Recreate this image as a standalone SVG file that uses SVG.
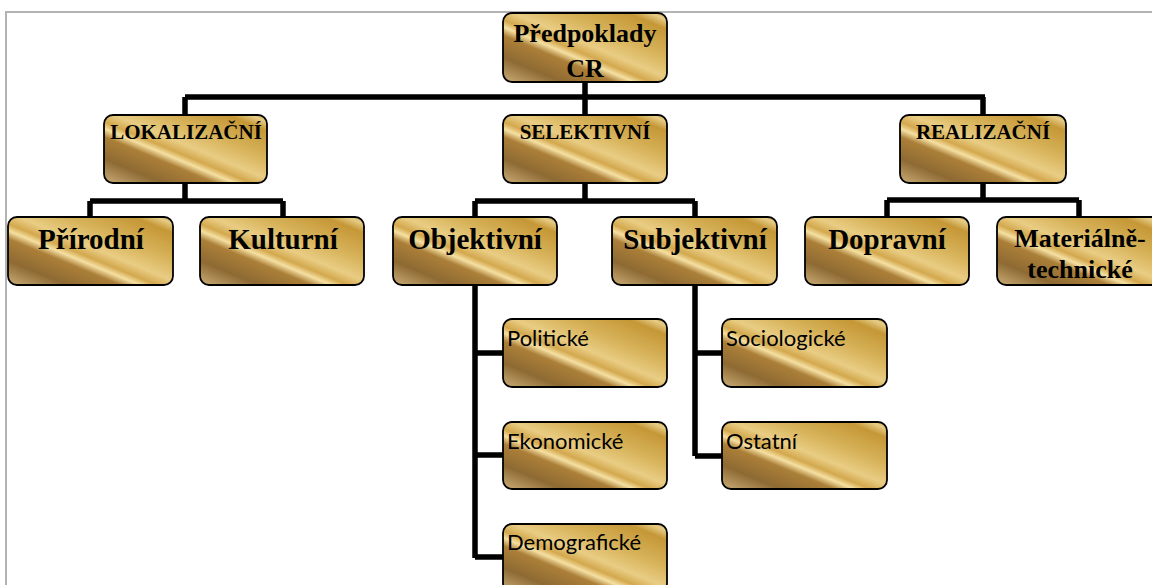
<svg xmlns="http://www.w3.org/2000/svg" width="1152" height="585" viewBox="0 0 1152 585">
<defs>
<linearGradient id="gold" x1="1" y1="0" x2="0" y2="1">
<stop offset="0" stop-color="#c9a148"/>
<stop offset="0.05" stop-color="#e6cc86"/>
<stop offset="0.12" stop-color="#c59736"/>
<stop offset="0.33" stop-color="#d8b45c"/>
<stop offset="0.47" stop-color="#e9cd84"/>
<stop offset="0.55" stop-color="#d3a84e"/>
<stop offset="0.6" stop-color="#f5e0a2"/>
<stop offset="0.66" stop-color="#ab7f38"/>
<stop offset="0.82" stop-color="#8e6a33"/>
<stop offset="1" stop-color="#cbad78"/>
</linearGradient>
<style>
.box{fill:url(#gold);stroke:#000;stroke-width:1.8}
.conn{fill:none;stroke:#000;stroke-width:5.5;stroke-linejoin:miter;stroke-linecap:butt}
.frame{fill:none;stroke:#b3b3b3;stroke-width:2}
.t0{font-family:"Liberation Serif","Times New Roman",serif;font-weight:bold;font-size:26px;fill:#000;text-anchor:middle}
.t1{font-family:"Liberation Serif","Times New Roman",serif;font-weight:bold;font-size:21px;fill:#000;text-anchor:middle}
.t2{font-family:"Liberation Serif","Times New Roman",serif;font-weight:bold;font-size:29px;fill:#000;text-anchor:middle}
.t2b{font-family:"Liberation Serif","Times New Roman",serif;font-weight:bold;font-size:26px;fill:#000;text-anchor:middle}
.t3{font-family:Lato,"Open Sans",sans-serif;font-size:22px;fill:#000}
</style>
</defs>
<rect width="1152" height="585" fill="#fff"/>
<path class="frame" d="M6,585 V12 H1152"/>
<g id="connectors">
<path class="conn" d="M585,82 V97 M185,97 H985 M185,97 V115 M585,97 V115 M983,97 V115"/>
<path class="conn" d="M185,183 V201 M90,201 H283 M90,201 V217 M283,201 V217"/>
<path class="conn" d="M585,183 V201 M475,201 H695 M475,201 V217 M695,201 V217"/>
<path class="conn" d="M983,183 V200 M887,200 H1079 M887,200 V217 M1079,200 V217"/>
<path class="conn" d="M475,285 V558 M475,353 H503 M475,455 H503 M475,557 H503"/>
<path class="conn" d="M695,285 V456 M695,353 H722 M695,456 H722"/>
</g>
<g id="n-root"><rect class="box" x="503" y="13" width="164" height="69" rx="9"/><text class="t0" x="585" y="42">Předpoklady</text><text class="t0" x="585" y="77">CR</text></g>
<g id="n-lokalizacni"><rect class="box" x="104" y="115" width="163" height="68" rx="9"/><text class="t1" x="186" y="139">LOKALIZAČNÍ</text></g>
<g id="n-selektivni"><rect class="box" x="503" y="115" width="164" height="68" rx="9"/><text class="t1" x="585" y="139">SELEKTIVNÍ</text></g>
<g id="n-realizacni"><rect class="box" x="900" y="115" width="166" height="68" rx="9"/><text class="t1" x="983" y="139">REALIZAČNÍ</text></g>
<g id="n-prirodni"><rect class="box" x="8" y="217" width="165" height="68" rx="9"/><text class="t2" x="91" y="249">Přírodní</text></g>
<g id="n-kulturni"><rect class="box" x="200" y="217" width="164" height="68" rx="9"/><text class="t2" x="283" y="249">Kulturní</text></g>
<g id="n-objektivni"><rect class="box" x="393" y="217" width="164" height="68" rx="9"/><text class="t2" x="475" y="249">Objektivní</text></g>
<g id="n-subjektivni"><rect class="box" x="612" y="217" width="165" height="68" rx="9"/><text class="t2" x="695" y="249">Subjektivní</text></g>
<g id="n-dopravni"><rect class="box" x="805" y="217" width="164" height="68" rx="9"/><text class="t2" x="887" y="249">Dopravní</text></g>
<g id="n-materialne"><rect class="box" x="997" y="217" width="164" height="68" rx="9"/><text class="t2b" x="1080" y="247">Materiálně-</text><text class="t2b" x="1080" y="278">technické</text></g>
<g id="n-politicke"><rect class="box" x="503" y="319" width="164" height="68" rx="9"/><text class="t3" x="507" y="346">Politické</text></g>
<g id="n-ekonomicke"><rect class="box" x="503" y="422" width="164" height="67" rx="9"/><text class="t3" x="507" y="449">Ekonomické</text></g>
<g id="n-demograficke"><rect class="box" x="503" y="524" width="164" height="68" rx="9"/><text class="t3" x="507" y="550">Demografické</text></g>
<g id="n-sociologicke"><rect class="box" x="722" y="319" width="165" height="68" rx="9"/><text class="t3" x="726" y="346">Sociologické</text></g>
<g id="n-ostatni"><rect class="box" x="722" y="422" width="165" height="67" rx="9"/><text class="t3" x="726" y="449">Ostatní</text></g>
</svg>
